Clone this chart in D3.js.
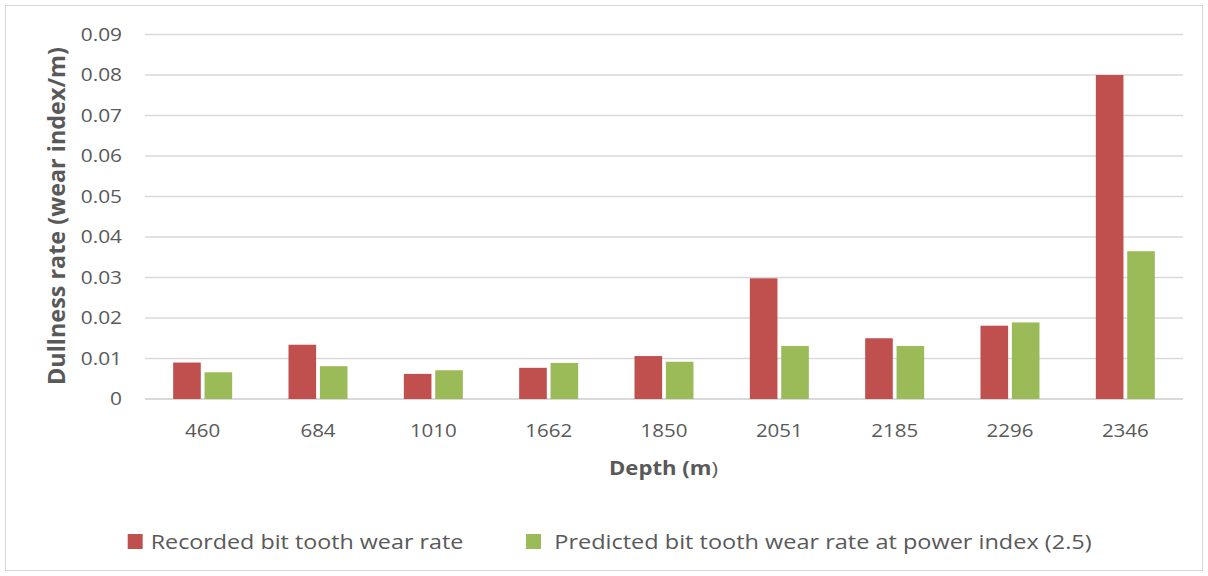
<!DOCTYPE html>
<html><head><meta charset="utf-8">
<script src="https://cdn.jsdelivr.net/npm/d3@7"></script>
<style>
html,body{margin:0;padding:0;background:#fff;}
text{font-family:"Open Sans","Noto Sans",sans-serif;fill:#595959;}
</style></head>
<body><svg id="c" width="1208" height="576"></svg>
<script>
const categories = ["460","684","1010","1662","1850","2051","2185","2296","2346"];
const recorded = [0.0090,0.0134,0.0062,0.0077,0.0106,0.0298,0.0150,0.0181,0.0800];
const predicted = [0.0066,0.0081,0.0071,0.0089,0.0092,0.0131,0.0131,0.0189,0.0365];
const yTicks = [0,0.01,0.02,0.03,0.04,0.05,0.06,0.07,0.08,0.09];
const seriesNames = ["Recorded bit tooth wear rate","Predicted bit tooth wear rate at power index (2.5)"];
const colors = ["#c0504d","#9bbb59"];

(function(){
const svg = d3.select("#c");
svg.append("rect").attr("x",5.5).attr("y",5.5).attr("width",1197).attr("height",565)
  .attr("fill","#fff").attr("stroke","#d9d9d9");

const pL=145,pR=1183,pT=34.5,pB=399;
const x = d3.scaleBand().domain(categories).range([pL,pR]);
const y = d3.scaleLinear().domain([0,0.09]).range([pB,pT]);
const inner = d3.scaleBand().domain([0,1]).range([0,59]).paddingInner(0.12);

function stretch(sel,f){
  sel.each(function(){
    const w=this.getComputedTextLength();
    d3.select(this).attr("textLength",w*f).attr("lengthAdjust","spacingAndGlyphs");
  });
}

const yAxis = d3.axisLeft(y).tickValues(yTicks).tickSize(0).tickPadding(23)
  .tickFormat(d=> d===0?"0":d3.format(".2f")(d));
const gy = svg.append("g").attr("transform",`translate(${pL},0)`).call(yAxis);
gy.select(".domain").remove();
gy.selectAll("text").attr("font-size",18).attr("font-family",null).style("fill","#595959");
stretch(gy.selectAll("text"),1.16);

svg.append("g").selectAll("line").data(yTicks).join("line")
  .attr("x1",pL).attr("x2",pR).attr("y1",d=>y(d)).attr("y2",d=>y(d))
  .attr("stroke","#d9d9d9").attr("stroke-width",d=>d===0?2:1.5);

const series=[recorded,predicted];
series.forEach((vals,si)=>{
  svg.append("g").selectAll("rect").data(vals).join("rect")
    .attr("x",(d,i)=>x(categories[i])+x.bandwidth()/2-29.5+inner(si))
    .attr("width",inner.bandwidth())
    .attr("y",d=>y(d)).attr("height",d=>pB-y(d))
    .attr("fill",colors[si]);
});

const xAxis = d3.axisBottom(x).tickSize(0).tickPadding(25);
const gx = svg.append("g").attr("transform",`translate(0,${pB})`).call(xAxis);
gx.select(".domain").remove();
gx.selectAll("text").attr("font-size",18).attr("font-family",null).style("fill","#595959");
stretch(gx.selectAll("text"),1.14);

const xt = svg.append("text").attr("x",663.5).attr("y",475).attr("text-anchor","middle")
  .attr("font-size",19).attr("font-weight","bold");
xt.append("tspan").text("Depth (m");
xt.append("tspan").attr("font-weight","normal").text(")");
xt.attr("textLength",109).attr("lengthAdjust","spacingAndGlyphs");

svg.append("text").attr("transform",`translate(56.5,216) scale(1.12,1) rotate(-90)`)
  .attr("text-anchor","middle").attr("dy","0.36em").attr("font-size",20).attr("font-weight","bold")
  .attr("textLength",338).attr("lengthAdjust","spacingAndGlyphs")
  .text("Dullness rate (wear index/m)");

const legX=[127.7,526];
const legTX=[150.7,554.3];
const legLen=[312.6,537.4];
seriesNames.forEach((n,i)=>{
  svg.append("rect").attr("x",legX[i]).attr("y",534).attr("width",15).attr("height",15).attr("fill",colors[i]);
  svg.append("text").attr("x",legTX[i]).attr("y",548.5).attr("font-size",20)
    .attr("textLength",legLen[i]).attr("lengthAdjust","spacingAndGlyphs").text(n);
});
})();
</script></body></html>
